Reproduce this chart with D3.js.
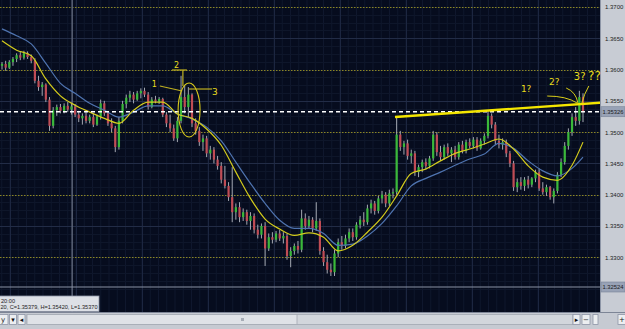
<!DOCTYPE html>
<html>
<head>
<meta charset="utf-8">
<script src="https://cdn.jsdelivr.net/npm/d3@7/dist/d3.min.js"></script>
<style>
  body { margin: 0; background: #c8ccd3; overflow: hidden; }
  svg { display: block; }
</style>
</head>
<body>
<script>
const width = 625;
const height = 329;
const plotW = 600;
const plotH = 312;

// bars
const opens = [1.3606,1.3609,1.3603,1.3612,1.3617,1.3623,1.3619,1.3626,1.3620,1.3614,
  1.3582,1.3572,1.3576,1.3552,1.3510,1.3535,1.3540,1.3534,1.3542,1.3536,
  1.3541,1.3528,1.3522,1.3526,1.3518,1.3524,1.3512,1.3525,1.3546,1.3530,
  1.3514,1.3506,1.3476,1.3518,1.3545,1.3555,1.3560,1.3552,1.3562,1.3566,
  1.3560,1.3540,1.3552,1.3549,1.3553,1.3528,1.3514,1.3506,1.3490,1.3518,
  1.3556,1.3540,1.3560,1.3514,1.3502,1.3484,1.3490,1.3466,1.3472,1.3456,
  1.3446,1.3424,1.3414,1.3396,1.3372,1.3380,1.3364,1.3372,1.3358,1.3366,
  1.3344,1.3336,1.3350,1.3314,1.3332,1.3328,1.3338,1.3330,1.3334,1.3302,
  1.3310,1.3318,1.3312,1.3362,1.3350,1.3360,1.3346,1.3358,1.3310,1.3292,
  1.3280,1.3276,1.3306,1.3324,1.3318,1.3330,1.3340,1.3332,1.3352,1.3360,
  1.3356,1.3378,1.3386,1.3374,1.3394,1.3400,1.3386,1.3402,1.3404,1.3496,
  1.3476,1.3482,1.3462,1.3466,1.3436,1.3444,1.3452,1.3446,1.3458,1.3496,
  1.3468,1.3460,1.3476,1.3466,1.3472,1.3460,1.3480,1.3470,1.3484,1.3478,
  1.3488,1.3474,1.3486,1.3494,1.3526,1.3512,1.3486,1.3480,1.3484,1.3466,
  1.3450,1.3412,1.3420,1.3414,1.3424,1.3416,1.3426,1.3436,1.3410,1.3404,
  1.3412,1.3396,1.3406,1.3432,1.3452,1.3478,1.3500,1.3524,1.3518,1.3556];

const highs = [1.3612,1.3614,1.3615,1.3620,1.3626,1.3628,1.3630,1.3629,1.3624,1.3618,
  1.3590,1.3580,1.3578,1.3556,1.3540,1.3544,1.3545,1.3546,1.3548,1.3547,
  1.3545,1.3534,1.3530,1.3532,1.3528,1.3530,1.3528,1.3552,1.3550,1.3534,
  1.3522,1.3510,1.3524,1.3550,1.3560,1.3566,1.3564,1.3566,1.3570,1.3571,
  1.3564,1.3556,1.3558,1.3556,1.3555,1.3532,1.3528,1.3512,1.3524,1.3590,
  1.3575,1.3572,1.3562,1.3522,1.3508,1.3496,1.3494,1.3478,1.3476,1.3462,
  1.3452,1.3446,1.3420,1.3444,1.3386,1.3388,1.3378,1.3376,1.3372,1.3370,
  1.3352,1.3354,1.3356,1.3338,1.3340,1.3342,1.3344,1.3340,1.3338,1.3316,
  1.3322,1.3326,1.3376,1.3370,1.3366,1.3364,1.3388,1.3362,1.3316,1.3304,
  1.3290,1.3312,1.3330,1.3334,1.3336,1.3346,1.3346,1.3356,1.3366,1.3372,
  1.3384,1.3392,1.3390,1.3398,1.3406,1.3404,1.3408,1.3410,1.3524,1.3502,
  1.3486,1.3488,1.3472,1.3470,1.3448,1.3456,1.3458,1.3462,1.3502,1.3500,
  1.3478,1.3480,1.3482,1.3476,1.3478,1.3484,1.3486,1.3488,1.3490,1.3492,
  1.3492,1.3490,1.3498,1.3534,1.3530,1.3516,1.3496,1.3490,1.3488,1.3470,
  1.3454,1.3426,1.3428,1.3428,1.3430,1.3428,1.3440,1.3442,1.3420,1.3416,
  1.3414,1.3410,1.3436,1.3458,1.3484,1.3506,1.3530,1.3540,1.3566,1.3562];

const lows = [1.3600,1.3598,1.3601,1.3606,1.3612,1.3615,1.3616,1.3617,1.3610,1.3578,
  1.3566,1.3558,1.3548,1.3502,1.3506,1.3526,1.3530,1.3530,1.3532,1.3528,
  1.3524,1.3516,1.3512,1.3514,1.3514,1.3508,1.3510,1.3520,1.3526,1.3510,
  1.3500,1.3468,1.3472,1.3514,1.3538,1.3548,1.3546,1.3550,1.3554,1.3556,
  1.3536,1.3538,1.3546,1.3545,1.3524,1.3508,1.3500,1.3486,1.3484,1.3514,
  1.3530,1.3524,1.3508,1.3496,1.3478,1.3470,1.3460,1.3456,1.3450,1.3440,
  1.3418,1.3410,1.3390,1.3356,1.3360,1.3356,1.3358,1.3352,1.3344,1.3338,
  1.3330,1.3330,1.3286,1.3310,1.3322,1.3324,1.3326,1.3322,1.3296,1.3284,
  1.3304,1.3306,1.3308,1.3344,1.3346,1.3340,1.3342,1.3304,1.3286,1.3274,
  1.3270,1.3270,1.3300,1.3312,1.3314,1.3324,1.3326,1.3328,1.3346,1.3350,
  1.3352,1.3370,1.3368,1.3370,1.3386,1.3380,1.3382,1.3394,1.3400,1.3470,
  1.3464,1.3456,1.3450,1.3430,1.3428,1.3436,1.3440,1.3442,1.3454,1.3462,
  1.3454,1.3456,1.3462,1.3452,1.3456,1.3456,1.3466,1.3466,1.3474,1.3474,
  1.3470,1.3472,1.3480,1.3490,1.3506,1.3480,1.3474,1.3472,1.3460,1.3444,
  1.3406,1.3404,1.3408,1.3406,1.3410,1.3412,1.3420,1.3406,1.3400,1.3398,
  1.3392,1.3386,1.3402,1.3428,1.3448,1.3472,1.3494,1.3510,1.3512,1.3516];

const closes = [1.3609,1.3603,1.3612,1.3617,1.3623,1.3619,1.3626,1.3620,1.3614,1.3582,
  1.3572,1.3576,1.3552,1.3510,1.3535,1.3540,1.3534,1.3542,1.3536,1.3541,
  1.3528,1.3522,1.3526,1.3518,1.3524,1.3512,1.3525,1.3546,1.3530,1.3514,
  1.3506,1.3476,1.3518,1.3545,1.3555,1.3560,1.3552,1.3562,1.3566,1.3560,
  1.3540,1.3552,1.3549,1.3553,1.3528,1.3514,1.3506,1.3490,1.3518,1.3556,
  1.3540,1.3560,1.3514,1.3502,1.3484,1.3490,1.3466,1.3472,1.3456,1.3446,
  1.3424,1.3414,1.3396,1.3372,1.3380,1.3364,1.3372,1.3358,1.3366,1.3344,
  1.3336,1.3350,1.3314,1.3332,1.3328,1.3338,1.3330,1.3334,1.3302,1.3310,
  1.3318,1.3312,1.3362,1.3350,1.3360,1.3346,1.3358,1.3310,1.3292,1.3280,
  1.3276,1.3306,1.3324,1.3318,1.3330,1.3340,1.3332,1.3352,1.3360,1.3356,
  1.3378,1.3386,1.3374,1.3394,1.3400,1.3386,1.3402,1.3404,1.3496,1.3476,
  1.3482,1.3462,1.3466,1.3436,1.3444,1.3452,1.3446,1.3458,1.3496,1.3468,
  1.3460,1.3476,1.3466,1.3472,1.3460,1.3480,1.3470,1.3484,1.3478,1.3488,
  1.3474,1.3486,1.3494,1.3526,1.3512,1.3486,1.3480,1.3484,1.3466,1.3450,
  1.3412,1.3420,1.3414,1.3424,1.3416,1.3426,1.3436,1.3410,1.3404,1.3412,
  1.3396,1.3406,1.3432,1.3452,1.3478,1.3500,1.3524,1.3518,1.3556,1.3533];

// the two moving averages, read every 4th bar
const maBars = [0,4,8,12,16,20,24,28,32,36,40,44,48,52,56,60,64,68,72,76,80,
  84,88,92,96,100,104,108,112,116,120,124,128,132,136,140,144,148,152,156,159];
const maFast = [1.3646,1.3631,1.3622,1.3585,1.3558,1.3543,1.3532,1.3522,1.3514,1.3535,
  1.3548,1.3548,1.3529,1.3522,1.3505,1.3479,1.3436,1.3394,1.3361,1.3345,1.3335,
  1.3339,1.3332,1.3310,1.3319,1.3340,1.3364,1.3398,1.3434,1.3441,1.3454,
  1.3466,1.3473,1.3481,1.3489,1.3473,1.3446,1.3428,1.3423,1.3447,1.3484];
const maSlow = [1.3665,1.3654,1.3641,1.3610,1.3578,1.3562,1.3546,1.3535,1.3524,1.3532,
  1.3542,1.3542,1.3529,1.3521,1.3508,1.3486,1.3452,1.3418,1.3386,1.3359,1.3346,
  1.3346,1.3338,1.3319,1.3321,1.3334,1.3354,1.3382,1.3414,1.3426,1.3436,
  1.3447,1.3457,1.3465,1.3482,1.3474,1.3454,1.3438,1.3430,1.3442,1.3460];

const priceTicks = [1.3700, 1.3650, 1.3600, 1.3550, 1.3500, 1.3450, 1.3400, 1.3350, 1.3300];
const levelLines = [1.3700, 1.3600, 1.3500, 1.3400, 1.3300];
const currentPrice = 1.35326;
const lowMark = 1.32524;
const separatorBar = 19.2;

const svg = d3.select('body').append('svg').attr('width', width).attr('height', height);

const x = d3.scaleLinear().domain([0, closes.length - 1]).range([2, 583]);
const y = d3.scaleLinear().domain([lowMark, 1.3700]).range([287, 7]);

const candles = closes.map((c, i) => ({ i: i, o: opens[i], h: highs[i], l: lows[i], c: c }));

// plot background + grid
svg.append('rect').attr('width', plotW).attr('height', plotH).attr('fill', '#060c1e');

const grid = svg.append('g');
grid.selectAll('line.vf').data(d3.range(1.75, plotW, 8.25)).enter().append('line')
  .attr('x1', d => d).attr('x2', d => d).attr('y1', 0).attr('y2', plotH)
  .style('stroke', '#0f172d').style('stroke-width', 1);
grid.selectAll('line.hf').data(d3.range(1.3250, 1.3725, 0.00125)).enter().append('line')
  .attr('x1', 0).attr('x2', plotW).attr('y1', d => Math.round(y(d)) + 0.5).attr('y2', d => Math.round(y(d)) + 0.5)
  .style('stroke', '#0e162a').style('stroke-width', 1);
grid.selectAll('line.vm').data(d3.range(10, plotW, 66)).enter().append('line')
  .attr('x1', d => d + 0.5).attr('x2', d => d + 0.5).attr('y1', 0).attr('y2', plotH)
  .style('stroke', '#1c2640').style('stroke-width', 1);
grid.selectAll('line.hm').data(priceTicks.filter(p => levelLines.indexOf(p) < 0)).enter().append('line')
  .attr('x1', 0).attr('x2', plotW).attr('y1', d => Math.round(y(d)) + 0.5).attr('y2', d => Math.round(y(d)) + 0.5)
  .style('stroke', '#222c46').style('stroke-width', 1);

// dotted yellow levels
svg.selectAll('line.level').data(levelLines).enter().append('line')
  .attr('x1', 0).attr('x2', plotW).attr('y1', d => Math.round(y(d)) + 0.5).attr('y2', d => Math.round(y(d)) + 0.5)
  .style('stroke', '#8c8624').style('stroke-width', 1.2).style('stroke-dasharray', '1.5,1.5');

// period separator and low marker
svg.append('line')
  .attr('x1', x(separatorBar)).attr('x2', x(separatorBar)).attr('y1', 0).attr('y2', plotH)
  .style('stroke', '#5c6478').style('stroke-width', 1.5);
svg.append('line')
  .attr('x1', 0).attr('x2', plotW).attr('y1', y(lowMark)).attr('y2', y(lowMark))
  .style('stroke', '#8a92a4').style('stroke-width', 1.2);

// candles
const bars = svg.selectAll('g.bar').data(candles).enter().append('g').attr('class', 'bar');
bars.append('line')
  .attr('x1', d => x(d.i)).attr('x2', d => x(d.i))
  .attr('y1', d => y(d.h)).attr('y2', d => y(d.l))
  .style('stroke', '#a4a8b2').style('stroke-width', 1);
bars.append('rect')
  .attr('x', d => x(d.i) - 1.1).attr('width', 2.2)
  .attr('y', d => y(Math.max(d.o, d.c)))
  .attr('height', d => Math.max(1, Math.abs(y(d.o) - y(d.c))))
  .style('fill', d => d.c >= d.o ? '#3ab93a' : '#c04c55');

// moving averages
const maLine = series => d3.line()
  .x((d, k) => x(maBars[k]))
  .y(d => y(d))
  .curve(d3.curveMonotoneX)(series);
svg.append('path').attr('d', maLine(maSlow))
  .style('fill', 'none').style('stroke', '#4f74b0').style('stroke-width', 1.2);
svg.append('path').attr('d', maLine(maFast))
  .style('fill', 'none').style('stroke', '#d4cc1c').style('stroke-width', 1.2);

// current price dashed line
svg.append('line')
  .attr('x1', 0).attr('x2', plotW).attr('y1', y(currentPrice)).attr('y2', y(currentPrice))
  .style('stroke', '#ffffff').style('stroke-width', 1.6).style('stroke-dasharray', '4,3');

// hand drawn notes (bar, price)
const noteTexts = [
  { t: '1', b: 41.0, p: 1.35721, s: 8 },
  { t: '2', b: 47.1, p: 1.36025, s: 8 },
  { t: '3', b: 57.5, p: 1.35593, s: 9 },
  { t: '1?', b: 142.0, p: 1.35641, s: 9 },
  { t: '2?', b: 149.7, p: 1.35753, s: 9 },
  { t: '3?', b: 156.5, p: 1.35833, s: 10 },
  { t: '??', b: 160.4, p: 1.35833, s: 12 }
];
const noteLines = [
  [[43.2, 1.35737], [49.3, 1.35657]],
  [[46.5, 1.35993], [50.6, 1.35993]],
  [[49.5, 1.35993], [49.5, 1.35737]],
  [[51.2, 1.35689], [57.5, 1.35689]]
];
const noteCurves = [
  [[149.2, 1.35577], [154.4, 1.35577], [157.4, 1.35465]],
  [[154.4, 1.35705], [157.1, 1.35641], [157.6, 1.35465]],
  [[160.6, 1.35737], [159.3, 1.35609], [158.7, 1.35465]]
];
const trendLine = [[107.55, 1.35241], [170.5, 1.35497]];
const circleNote = { b: 51.2, p: 1.35353, rb: 3.0, rp: 0.00432 };

svg.append('line')
  .attr('x1', x(trendLine[0][0])).attr('y1', y(trendLine[0][1]))
  .attr('x2', x(trendLine[1][0])).attr('y2', y(trendLine[1][1]))
  .style('stroke', '#f4e600').style('stroke-width', 2.4);

svg.selectAll('line.note').data(noteLines).enter().append('line')
  .attr('x1', d => x(d[0][0])).attr('y1', d => y(d[0][1]))
  .attr('x2', d => x(d[1][0])).attr('y2', d => y(d[1][1]))
  .style('stroke', '#bfb020').style('stroke-width', 1.2);

svg.append('ellipse')
  .attr('cx', x(circleNote.b)).attr('cy', y(circleNote.p))
  .attr('rx', x(circleNote.rb) - x(0)).attr('ry', y(circleNote.p - circleNote.rp) - y(circleNote.p))
  .style('fill', 'none').style('stroke', '#d8c81c').style('stroke-width', 1.1);

svg.selectAll('path.curve').data(noteCurves).enter().append('path')
  .attr('d', d => `M${x(d[0][0])},${y(d[0][1])} Q${x(d[1][0])},${y(d[1][1])} ${x(d[2][0])},${y(d[2][1])}`)
  .style('fill', 'none').style('stroke', '#d8cc18').style('stroke-width', 1);

// right price panel
svg.append('rect').attr('x', plotW).attr('y', 0).attr('width', width - plotW).attr('height', plotH)
  .attr('fill', '#c8ccd4');
svg.append('line').attr('x1', plotW + 0.5).attr('x2', plotW + 0.5).attr('y1', 0).attr('y2', plotH)
  .style('stroke', '#8d95a6');

const axis = svg.append('g').attr('transform', `translate(${plotW + 1},0)`)
  .call(d3.axisRight(y).tickValues(priceTicks).tickFormat(d3.format('.4f')).tickSize(0).tickPadding(4));
axis.select('.domain').remove();
axis.selectAll('text').style('font-family', 'Liberation Sans, Arial, sans-serif')
  .style('font-size', '6px').style('fill', '#1c1c1c');

const priceBoxes = [currentPrice, lowMark];
const boxes = svg.selectAll('g.pbox').data(priceBoxes).enter().append('g')
  .attr('transform', d => `translate(${plotW + 1},${y(d)})`);
boxes.append('rect').attr('x', 0).attr('y', -5).attr('width', 24).attr('height', 10)
  .attr('fill', '#98a2b6').attr('stroke', '#7a8498').attr('stroke-width', 0.6);
boxes.append('text').attr('x', 1.5).attr('y', 2.2).text(d => d3.format('.5f')(d))
  .attr('textLength', 21).attr('lengthAdjust', 'spacingAndGlyphs')
  .style('font-family', 'Liberation Sans, Arial, sans-serif').style('font-size', '6px').style('fill', '#1c1c1c');

// notes text on top (the ?? spills over the price panel)
svg.selectAll('text.note').data(noteTexts).enter().append('text')
  .attr('x', d => x(d.b)).attr('y', d => y(d.p)).text(d => d.t)
  .style('font-family', 'DejaVu Sans, sans-serif').style('font-size', d => d.s + 'px')
  .style('fill', '#e8dc1c');

// info box bottom left
const info = svg.append('g').attr('transform', 'translate(0,296)');
info.append('rect').attr('x', -1).attr('y', 0).attr('width', 100).attr('height', 15.5)
  .attr('fill', '#dde0e6').attr('stroke', '#8d95a6').attr('stroke-width', 0.8);
info.append('text').attr('x', 1).attr('y', 6.5).text('20:00')
  .style('font-family', 'Liberation Sans, Arial, sans-serif').style('font-size', '5.6px').style('fill', '#222');
info.append('text').attr('x', 0.5).attr('y', 13.3).text('20, C=1.35379, H=1.35420, L=1.35370')
  .attr('textLength', 97).attr('lengthAdjust', 'spacingAndGlyphs')
  .style('font-family', 'Liberation Sans, Arial, sans-serif').style('font-size', '5.6px').style('fill', '#222');

// bottom scroll bar
const bar = svg.append('g').attr('transform', `translate(0,${plotH})`);
bar.append('rect').attr('x', 0).attr('y', 0).attr('width', width).attr('height', height - plotH).attr('fill', '#c6cad2');
bar.append('line').attr('x1', 0).attr('x2', width).attr('y1', 0.5).attr('y2', 0.5).style('stroke', '#7d8596');
bar.append('rect').attr('x', 27).attr('y', 2.5).attr('width', 546).attr('height', 10)
  .attr('fill', '#d2d6dc').attr('stroke', '#a2a8b2').attr('stroke-width', 0.8);
bar.append('rect').attr('x', 27).attr('y', 2.5).attr('width', 270).attr('height', 10)
  .attr('fill', '#dfe2e7').attr('stroke', '#a2a8b2').attr('stroke-width', 0.8);
bar.append('rect').attr('x', 241).attr('y', 6).attr('width', 3).attr('height', 3).attr('fill', '#a6acb6');

const buttons = [
  { x0: -2, w: 10, t: 'y' },
  { x0: 9.5, w: 7, t: '▾' },
  { x0: 18, w: 7, t: '◂' },
  { x0: 573, w: 7, t: '▸' },
  { x0: 582, w: 8, t: '−' },
  { x0: 593, w: 5, t: '' },
  { x0: 618, w: 8, t: '+' }
];
const btn = bar.selectAll('g.btn').data(buttons).enter().append('g')
  .attr('transform', d => `translate(${d.x0},2.5)`);
btn.append('rect').attr('width', d => d.w).attr('height', 10)
  .attr('fill', '#eceef1').attr('stroke', '#8d95a6').attr('stroke-width', 0.8);
btn.append('text').attr('x', d => d.w / 2).attr('y', 7.8).attr('text-anchor', 'middle').text(d => d.t)
  .style('font-family', 'DejaVu Sans, sans-serif').style('font-size', '7px').style('fill', '#111');
</script>
</body>
</html>
